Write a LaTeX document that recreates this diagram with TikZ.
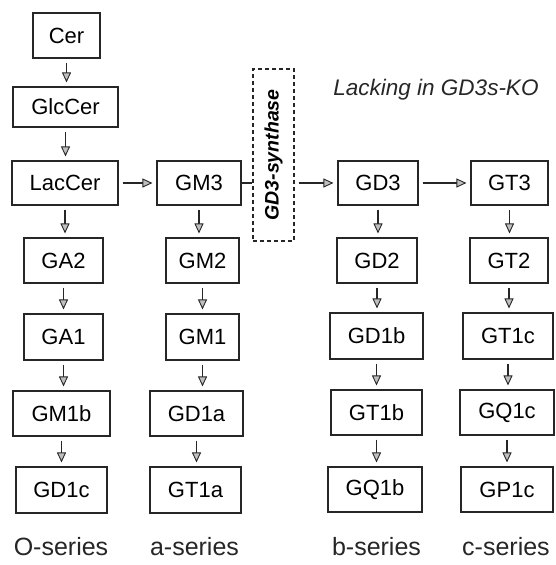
\documentclass[tikz,border=0pt]{standalone}
\usepackage{fontspec}
\setmainfont{Liberation Sans}
\usetikzlibrary{arrows.meta}
\tikzset{
  box/.style={draw=black!85, line width=1.1pt, inner sep=0pt, font=\fontsize{22}{26}\selectfont},
  synbox/.style={draw=black!85, line width=1.2pt, dash pattern=on 4pt off 3pt, inner sep=0pt},
  arr/.style={-{Triangle[length=10pt,width=9pt,fill=gray!50,line width=0.9pt]}, line width=1.2pt, draw=black!85, shorten >=4pt, shorten <=4pt},
  plain/.style={line width=1.1pt, draw=black!85},
  series/.style={font=\fontsize{25}{30}\selectfont, text=black!85},
}
\begin{document}
\begin{tikzpicture}[x=1pt,y=-1pt]
\useasboundingbox (0,0) rectangle (555,565);
% row 1-2
\node[box, minimum width=67pt, minimum height=45pt] (cer) at (66.5,35.5) {Cer};
\node[box, minimum width=105pt, minimum height=40pt] (glc) at (65.5,107) {GlcCer};
% row 3
\node[box, minimum width=106pt, minimum height=44pt] (lac) at (65,183) {LacCer};
\node[box, minimum width=84pt, minimum height=44pt] (gm3) at (199,183) {GM3};
\node[synbox, minimum width=41pt, minimum height=172pt] (syn) at (273.5,155) {};
\node[rotate=90, font=\fontsize{19.5}{22}\selectfont\bfseries\itshape] (synt) at (syn.center) {GD3-synthase};
\node[box, minimum width=80pt, minimum height=44pt] (gd3) at (378,183) {GD3};
\node[box, minimum width=77pt, minimum height=44pt] (gt3) at (509.5,183) {GT3};
\node[font=\fontsize{22.5}{26}\selectfont\itshape, text=black!85] (lack) at (436,90) {Lacking in GD3s-KO};
% row 4
\node[box, minimum width=79pt, minimum height=45pt] (ga2) at (63.5,260.5) {GA2};
\node[box, minimum width=73pt, minimum height=45pt] (gm2) at (202.5,260.5) {GM2};
\node[box, minimum width=80pt, minimum height=45pt] (gd2) at (377,260.5) {GD2};
\node[box, minimum width=78pt, minimum height=45pt] (gt2) at (509,260.5) {GT2};
% row 5
\node[box, minimum width=79pt, minimum height=46pt] (ga1) at (63.5,337) {GA1};
\node[box, minimum width=73pt, minimum height=46pt] (gm1) at (202.5,337) {GM1};
\node[box, minimum width=93pt, minimum height=46pt] (gd1b) at (376.5,336) {GD1b};
\node[box, minimum width=90pt, minimum height=46pt] (gt1c) at (508,336) {GT1c};
% row 6
\node[box, minimum width=97pt, minimum height=45pt] (gm1b) at (61.5,413.5) {GM1b};
\node[box, minimum width=93pt, minimum height=45pt] (gd1a) at (196.5,413.5) {GD1a};
\node[box, minimum width=91pt, minimum height=45pt] (gt1b) at (376.5,412.5) {GT1b};
\node[box, minimum width=94pt, minimum height=45pt] (gq1c) at (507,412.5) {GQ1c};
% row 7
\node[box, minimum width=91pt, minimum height=46pt] (gd1c) at (61.5,490) {GD1c};
\node[box, minimum width=91pt, minimum height=46pt] (gt1a) at (195.5,490) {GT1a};
\node[box, minimum width=94pt, minimum height=45pt] (gq1b) at (375,489.5) {GQ1b};
\node[box, minimum width=92pt, minimum height=45pt] (gp1c) at (507,489.5) {GP1c};
% series labels
\node[series] (so) at (61,547) {O-series};
\node[series] (sa) at (194.5,547) {a-series};
\node[series] (sb) at (376.5,547) {b-series};
\node[series] (sc) at (506,547) {c-series};
% vertical arrows
\foreach \a/\b in {cer/glc, glc/lac, lac/ga2, ga2/ga1, ga1/gm1b, gm1b/gd1c,
                   gm3/gm2, gm2/gm1, gm1/gd1a, gd1a/gt1a,
                   gd3/gd2, gd2/gd1b, gd1b/gt1b, gt1b/gq1b,
                   gt3/gt2, gt2/gt1c, gt1c/gq1c, gq1c/gp1c}
  \draw[arr] (\a.south) -- (\a.south |- \b.north);
% horizontal connectors
\draw[arr] (lac.east) -- (gm3.west);
\draw[plain] (gm3.east) -- (gm3.east -| syn.west);
\draw[arr] (gm3.east -| syn.east) -- (gd3.west);
\draw[arr] (gd3.east) -- (gt3.west);
\end{tikzpicture}
\end{document}
